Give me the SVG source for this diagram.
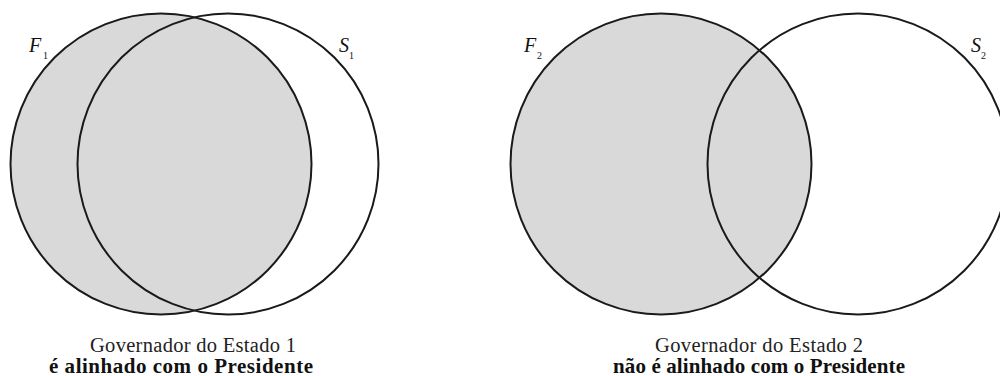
<svg xmlns="http://www.w3.org/2000/svg" width="1000" height="376" viewBox="0 0 1000 376">
<style>
.set{stroke:#1a1a1a;stroke-width:2;fill:none}
.shade{fill:#d9d9d9}
text{font-family:'Liberation Serif','Times New Roman',serif}
.lbl{font-style:italic;font-size:20px;fill:#111}
.sub{font-size:10px;fill:#111}
.cap{font-size:20.5px;fill:#222;text-anchor:middle}
.capb{font-weight:bold;font-size:21px;fill:#111}
</style>
<rect width="1000" height="376" fill="#fff"/>
<g id="F1">
<circle class="shade" cx="161" cy="164" r="150.5"/>
<circle class="set" cx="161" cy="164" r="150.5"/>
<text class="lbl" x="29" y="52">F</text><text class="sub" x="43" y="59">1</text>
</g>
<g id="S1">
<circle class="set" cx="228" cy="164" r="150.5"/>
<text class="lbl" x="339" y="52">S</text><text class="sub" x="349" y="59">1</text>
</g>
<g id="caption1">
<text class="cap" x="193" y="352" textLength="206">Governador do Estado 1</text>
<text class="cap capb" x="181" y="373" textLength="264">é alinhado com o Presidente</text>
</g>
<g id="F2">
<circle class="shade" cx="661" cy="164" r="150.5"/>
<circle class="set" cx="661" cy="164" r="150.5"/>
<text class="lbl" x="524" y="52">F</text><text class="sub" x="537" y="59">2</text>
</g>
<g id="S2">
<circle class="set" cx="858" cy="164" r="150.5"/>
<text class="lbl" x="971" y="52">S</text><text class="sub" x="981" y="59">2</text>
</g>
<g id="caption2">
<text class="cap" x="759" y="352" textLength="208">Governador do Estado 2</text>
<text class="cap capb" x="759" y="373" textLength="292">não é alinhado com o Presidente</text>
</g>
<g id="connectors"></g>
</svg>
